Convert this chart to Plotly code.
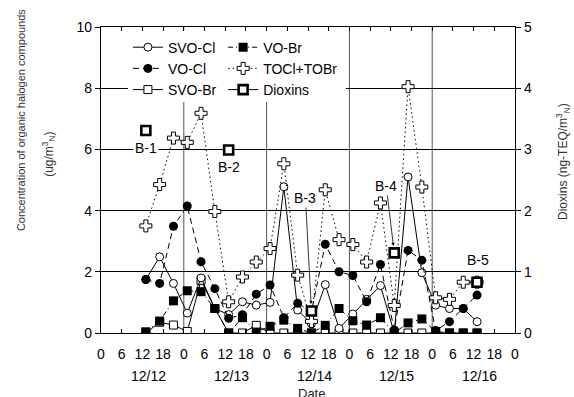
import plotly.graph_objects as go

# ---------------- data ----------------
hours = [13, 17, 21, 25, 29, 33, 37, 41, 45, 49, 53, 57, 61, 65, 69, 73, 77, 81, 85, 89, 93, 97, 101, 105, 109]

svo_cl = [1.75, 2.49, 1.62, 0.65, 1.80, 0.80, 0.60, 1.02, 0.91, 1.00, 4.78, 0.75, 0.30, 1.58, 0.15,
          0.62, 1.10, 1.55, 0.00, 5.10, 1.97, 0.91, 0.80, 0.80, 0.37]
vo_cl = [1.75, 1.62, 3.49, 4.15, 2.33, 1.45, 0.48, 0.60, 1.27, 1.57, 0.50, 0.97, 0.70, 2.90, 2.00,
         1.88, 1.02, 2.24, 0.10, 2.70, 2.38, 0.08, 0.37, 0.80, 1.24]
svo_br = [0.00, 0.35, 0.26, 0.05, 1.72, 0.80, 0.00, 0.00, 0.25, 0.00, 0.00, 0.00, 0.00, 0.00, 0.00,
          0.00, 0.00, 0.00, 0.00, 0.00, 0.00, 0.00, 0.00, 0.00, 0.00]
vo_br = [0.04, 0.39, 1.05, 1.38, 1.35, 0.80, 0.00, 0.50, 0.03, 0.22, 0.42, 0.15, 0.00, 0.25, 0.80,
         0.40, 0.26, 0.50, 0.00, 0.33, 0.46, 0.05, 0.00, 0.00, 0.00]
tocl_tobr = [3.50, 4.85, 6.37, 6.23, 7.18, 3.97, 1.02, 1.83, 2.32, 2.76, 5.53, 1.89, 0.38, 4.68, 3.05,
             2.89, 2.32, 4.25, 0.90, 8.05, 4.77, 1.15, 1.10, 1.66, 1.66]

dioxin_hours = [13, 37, 61, 85, 109]
dioxins = [3.31, 2.99, 0.36, 1.31, 0.83]
dioxin_labels = ["B-1", "B-2", "B-3", "B-4", "B-5"]

x_tick_vals = list(range(0, 121, 6))
x_tick_text = ["0", "6", "12", "18"] * 5 + ["0"]
date_labels = ["12/12", "12/13", "12/14", "12/15", "12/16"]
day_hours = [12, 36, 60, 84, 108]
day_bounds = [24, 48, 72, 96]

FONT = "Liberation Sans, Arial, sans-serif"

fig = go.Figure()

# legend column 1
fig.add_trace(go.Scatter(x=hours, y=svo_br, name="SVO-Br", mode="lines+markers",
                         line=dict(color="black", width=1),
                         marker=dict(symbol="square", size=8, color="white", line=dict(color="black", width=1)),
                         legend="legend", legendrank=3))
fig.add_trace(go.Scatter(x=hours, y=svo_cl, name="SVO-Cl", mode="lines+markers",
                         line=dict(color="black", width=1),
                         marker=dict(symbol="circle", size=8, color="white", line=dict(color="black", width=1)),
                         legend="legend", legendrank=1))
fig.add_trace(go.Scatter(x=hours, y=vo_cl, name="VO-Cl", mode="lines+markers",
                         line=dict(color="black", width=1, dash="6px,4px"),
                         marker=dict(symbol="circle", size=9, color="black"),
                         legend="legend", legendrank=2))
# legend column 2
fig.add_trace(go.Scatter(x=hours, y=vo_br, name="VO-Br", mode="lines+markers",
                         line=dict(color="black", width=1, dash="5px,3px,1px,3px"),
                         marker=dict(symbol="square", size=9, color="black"),
                         legend="legend2", legendrank=1))
fig.add_trace(go.Scatter(x=hours, y=tocl_tobr, name="TOCl+TOBr", mode="lines+markers",
                         line=dict(color="black", width=1, dash="1.5px,3px"),
                         marker=dict(symbol="cross", size=10, color="white", line=dict(color="black", width=1)),
                         legend="legend2", legendrank=2))

# dioxins: isolated points (gaps so no connecting line), legend shows line
dx, dy = [], []
for h, v in zip(dioxin_hours, dioxins):
    dx += [h, None]
    dy += [v, None]
fig.add_trace(go.Scatter(x=dx, y=dy, name="Dioxins", mode="lines+markers", yaxis="y2",
                         connectgaps=False,
                         line=dict(color="black", width=1),
                         marker=dict(symbol="square", size=9, color="white", line=dict(color="black", width=2.6)),
                         legend="legend2", legendrank=3))

# vertical day-boundary lines
for b in day_bounds:
    fig.add_shape(type="line", x0=b, x1=b, y0=0, y1=10, xref="x", yref="y",
                  line=dict(color="#555555", width=1), layer="below")
# white backing behind the legend block (hides grid lines there)
fig.add_shape(type="rect", x0=7.8, x1=71, y0=7.55, y1=9.9, xref="x", yref="y",
              fillcolor="white", line=dict(width=0), layer="between")

annotations = []
# dioxin sample labels
offsets = {"B-1": (0, -18), "B-2": (0, -17), "B-5": (1, 22)}
for h, v, lab in zip(dioxin_hours, dioxins, dioxin_labels):
    if lab in offsets:
        xs, ys = offsets[lab]
        annotations.append(dict(x=h, y=v, xref="x", yref="y2", text=lab, showarrow=False,
                                xshift=xs, yshift=ys, bgcolor="white",
                                font=dict(size=14, color="black", family=FONT)))
arrow_offsets = {"B-3": (-6, -113), "B-4": (-8, -67)}
for h, v, lab in zip(dioxin_hours, dioxins, dioxin_labels):
    if lab in arrow_offsets:
        ax, ay = arrow_offsets[lab]
        annotations.append(dict(x=h, y=v, xref="x", yref="y2", text=lab, showarrow=True,
                                ax=ax, ay=ay, arrowhead=2, arrowsize=0.8, arrowwidth=0.8,
                                arrowcolor="black", standoff=7, bgcolor="white",
                                font=dict(size=14, color="black", family=FONT)))

# date labels
for h, d in zip(day_hours, date_labels):
    annotations.append(dict(x=h, y=-0.141, xref="x", yref="paper", text=d, showarrow=False,
                            xshift=6, yanchor="middle",
                            font=dict(size=14, color="black", family=FONT)))
annotations.append(dict(x=61, y=-0.197, xref="x", yref="paper", text="Date", showarrow=False,
                        yanchor="middle", font=dict(size=13, color="#222222", family=FONT)))
# axis titles
annotations.append(dict(x=-0.193, y=0.696, xref="paper", yref="paper",
                        text="Concentration of organic halogen compounds", textangle=-90,
                        showarrow=False, xanchor="center", yanchor="middle",
                        font=dict(size=11, color="#333333", family=FONT)))
annotations.append(dict(x=-0.126, y=0.585, xref="paper", yref="paper",
                        text="(ug/m<sup>3</sup><sub>N</sub>)", textangle=-90,
                        showarrow=False, xanchor="center", yanchor="middle",
                        font=dict(size=12, color="#333333", family=FONT)))
annotations.append(dict(x=1.116, y=0.559, xref="paper", yref="paper",
                        text="Dioxins (ng-TEQ/m<sup>3</sup><sub>N</sub>)", textangle=-90,
                        showarrow=False, xanchor="center", yanchor="middle",
                        font=dict(size=12, color="#333333", family=FONT)))

fig.update_layout(
    width=574, height=397,
    margin=dict(l=101, r=59, t=27, b=64),
    paper_bgcolor="white", plot_bgcolor="white",
    font=dict(family=FONT, size=14, color="black"),
    xaxis=dict(range=[0, 120], tickvals=x_tick_vals, ticktext=x_tick_text,
               ticks="inside", ticklen=4, tickcolor="black", tickwidth=1,
               showline=True, linecolor="black", linewidth=1.2, mirror="ticks",
               showgrid=False, zeroline=False, tickfont=dict(size=14),
               ticklabelstandoff=8),
    yaxis=dict(range=[0, 10], tickvals=[0, 2, 4, 6, 8, 10], ticks="outside", ticklen=5,
               tickcolor="black", showline=True, linecolor="black", linewidth=1.2,
               showgrid=True, gridcolor="black", gridwidth=1, zeroline=False,
               tickfont=dict(size=14)),
    yaxis2=dict(range=[0, 5], tickvals=[0, 1, 2, 3, 4, 5], overlaying="y", side="right",
                ticks="outside", ticklen=5, tickcolor="black", showline=True,
                linecolor="black", linewidth=1.2, showgrid=False, zeroline=False,
                tickfont=dict(size=14)),
    legend=dict(x=0.065, y=0.985, xanchor="left", yanchor="top", bgcolor="rgba(0,0,0,0)",
                borderwidth=0, font=dict(size=14, family=FONT), traceorder="normal",
                itemclick=False),
    legend2=dict(x=0.295, y=0.985, xanchor="left", yanchor="top", bgcolor="rgba(0,0,0,0)",
                 borderwidth=0, font=dict(size=14, family=FONT), traceorder="normal",
                 itemclick=False),
    annotations=annotations,
    showlegend=True,
    hovermode=False,
)

fig.write_html("out.html", config={"displayModeBar": False},
               post_script="document.body.style.margin='0px';")
